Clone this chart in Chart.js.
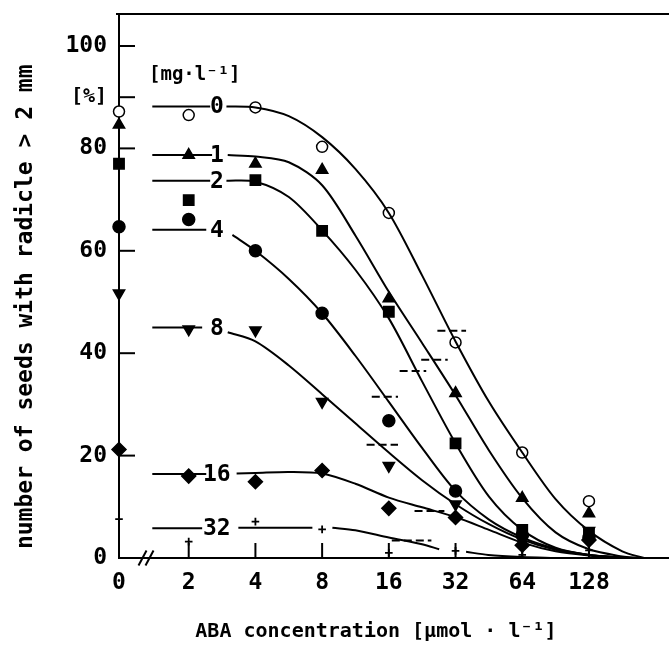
<!DOCTYPE html>
<html><head><meta charset="utf-8">
<script src="https://cdn.jsdelivr.net/npm/chart.js"></script>
<style>html,body{margin:0;padding:0;background:#fff;}canvas{display:block;}</style>
</head><body>
<canvas id="c" width="669" height="648"></canvas>
<script>
// ---- categories / ticks ----
const conc = [0, 2, 4, 8, 16, 32, 64, 128];
const xTickLabels = ['0', '2', '4', '8', '16', '32', '64', '128'];
const yTickValues = [0, 20, 40, 60, 80, 90, 100];
const yTickLabels = ['0', '20', '40', '60', '80', '[%]', '100'];
const doseLabels = ['0', '1', '2', '4', '8', '16', '32'];
const plateau = [88.2, 78.7, 73.7, 64.1, 45.0, 16.4, 5.8];

// ---- observed values (%), one per concentration ----
const obs0  = [87.2, 86.5, 88.0, 80.3, 67.4, 42.1, 20.6, 11.1];
const obs1  = [84.6, 78.7, 77.0, 75.8, 50.7, 32.2, 11.7, 8.7];
const obs2  = [77.0, 69.9, 73.8, 63.9, 48.1, 22.4, 5.5, 4.8];
const obs4  = [64.7, 66.1, 60.0, 47.8, 26.8, 13.1, 4.5, 4.0];
const obs8  = [51.7, 44.7, 44.5, 30.5, 18.0, 10.5, 3.5, 5.3];
const obs16 = [21.2, 16.0, 14.9, 17.1, 9.7, 7.9, 2.5, 3.5];
const obs32 = [7.6, 3.2, 7.1, 5.6, 1.0, 1.4, 0.6, 1.5];

// ---- fitted curves (x in µmol/l, null = gap) ----
const fit0X  = [1.37, 2.5, 2.7, 2.96, 4, 5.66, 8, 11.3, 16, 22.6, 32, 45.3, 64, 90.5, 128, 181, 227];
const fit0Y  = [88.2, 88.2, null, 88.2, 88.0, 86.3, 82.2, 76, 67.4, 55.2, 42.3, 30.5, 20.6, 11.5, 5.3, 1.3, 0];
const fit1X  = [1.37, 2.55, 2.8, 3.0, 4, 5.66, 8, 11.3, 16, 22.6, 32, 45.3, 64, 90.5, 128, 181, 215];
const fit1Y  = [78.7, 78.7, null, 78.7, 78.4, 77.3, 72.8, 63, 52, 42, 31.8, 21, 11.7, 5, 1.7, 0.3, 0];
const fit2X  = [1.37, 2.5, 2.7, 2.96, 4, 5.66, 8, 11.3, 16, 22.6, 32, 45.3, 64, 90.5, 128, 195];
const fit2Y  = [73.7, 73.7, null, 73.7, 73.5, 70.5, 64, 56.3, 46.8, 34.5, 22.4, 12, 5.5, 2, 0.6, 0];
const fit4X  = [1.37, 2.4, 2.6, 3.15, 4, 5.66, 8, 11.3, 16, 22.6, 32, 45.3, 64, 90.5, 128, 190];
const fit4Y  = [64.1, 64.1, null, 63.1, 60, 54.5, 47.8, 39.5, 30.5, 21.5, 13.1, 7.5, 4, 1.8, 0.6, 0];
const fit8X  = [1.37, 2.3, 2.5, 3.0, 4, 5.66, 8, 11.3, 16, 22.6, 32, 45.3, 64, 90.5, 128, 190];
const fit8Y  = [45, 45, null, 44.1, 42.3, 37.6, 32, 26.3, 20.6, 15.2, 10.5, 6.6, 3.6, 1.6, 0.6, 0];
const fit16X = [1.37, 2.4, 2.6, 3.29, 4, 5.66, 8, 11.3, 16, 22.6, 32, 45.3, 64, 90.5, 128, 190];
const fit16Y = [16.4, 16.4, null, 16.5, 16.6, 16.8, 16.5, 14.5, 11.8, 9.9, 8.0, 5.5, 3.0, 1.3, 0.5, 0];
const fit32X = [1.37, 2.3, 2.6, 3.35, 7.23, 8, 8.9, 11.3, 16, 22.6, 27, 31, 35.7, 45, 64, 90];
const fit32Y = [5.8, 5.8, null, 5.9, 5.9, null, 5.9, 5.4, 4.0, 2.7, 1.7, null, 1.2, 0.6, 0.2, 0];

// ---- dashed half-maximum segments ----
const halfLo = [26.5, 22.4, 17.9, 13.4, 12.7, 20.9, 16.5];
const halfHi = [35.7, 29.5, 23.6, 17.6, 17.6, 28.5, 24.9];
const halfY  = [44.4, 38.7, 36.5, 31.5, 22.1, 9.2, 3.4];

// ---- axis geometry ----
const X_ZERO = -0.045, X_MAX = 8.2, Y_MAX = 106.25;
const pos = c => (c === 0 ? X_ZERO : Math.log2(c));
const FONT = '"DejaVu Sans Mono", monospace';

const obsSets = [
  {v: obs0,  style: 'circle',   r: 5.5, fill: '#fff', rot: 0},
  {v: obs1,  style: 'triangle', r: 6.5, fill: '#000', rot: 0},
  {v: obs2,  style: 'rect',     r: 7.3, fill: '#000', rot: 0},
  {v: obs4,  style: 'circle',   r: 6,   fill: '#000', rot: 0},
  {v: obs8,  style: 'triangle', r: 6.5, fill: '#000', rot: 180},
  {v: obs16, style: 'rectRot',  r: 7,   fill: '#000', rot: 0},
  {v: obs32, style: 'cross',    r: 3.8, fill: '#000', rot: 0}
];
const fits = [[fit0X, fit0Y], [fit1X, fit1Y], [fit2X, fit2Y], [fit4X, fit4Y],
              [fit8X, fit8Y], [fit16X, fit16Y], [fit32X, fit32Y]];

const datasets = [];
fits.forEach(([xs, ys]) => {
  datasets.push({
    type: 'line',
    data: xs.map((c, i) => ({x: pos(c), y: ys[i]})),
    borderColor: '#000', borderWidth: 2, pointRadius: 0,
    tension: 0.3, spanGaps: false, fill: false, clip: false
  });
});
halfY.forEach((yv, i) => {
  datasets.push({
    type: 'line',
    data: [{x: pos(halfLo[i]), y: yv}, {x: pos(halfHi[i]), y: yv}],
    borderColor: '#000', borderWidth: 2, borderDash: [8, 4], pointRadius: 0, fill: false
  });
});
obsSets.forEach(s => {
  datasets.push({
    type: 'scatter',
    data: conc.map((c, i) => ({x: pos(c), y: s.v[i]})),
    showLine: false,
    pointStyle: s.style, pointRadius: s.r, pointRotation: s.rot,
    pointBackgroundColor: s.fill, pointBorderColor: '#000',
    pointBorderWidth: s.style === 'cross' ? 1.8 : 1.5,
    clip: false
  });
});

const noPad = s => { s.paddingTop = 0; s.paddingBottom = 0; s.paddingLeft = 0; s.paddingRight = 0; };

const decor = {
  id: 'decor',
  beforeDraw(chart) {
    const c = chart.ctx;
    c.save(); c.fillStyle = '#fff'; c.fillRect(0, 0, chart.width, chart.height); c.restore();
  },
  beforeDatasetsDraw(chart) {
    const {ctx, chartArea: a, scales: {x, y}} = chart;
    ctx.save();
    ctx.strokeStyle = '#000'; ctx.lineWidth = 2;
    ctx.beginPath(); ctx.moveTo(a.left - 3, a.top); ctx.lineTo(a.right, a.top); ctx.stroke();
    x.ticks.forEach(t => {
      if (t.value <= X_ZERO) return;
      const px = x.getPixelForValue(t.value);
      ctx.beginPath(); ctx.moveTo(px, a.bottom); ctx.lineTo(px, a.bottom - 15); ctx.stroke();
    });
    y.ticks.forEach(t => {
      if (t.value === 0) return;
      const py = y.getPixelForValue(t.value);
      ctx.beginPath(); ctx.moveTo(a.left, py); ctx.lineTo(a.left + 16, py); ctx.stroke();
    });
    const bx = x.getPixelForValue(0.36);
    [-3.5, 3.5].forEach(dx => {
      ctx.beginPath(); ctx.moveTo(bx + dx - 4, a.bottom + 7.5); ctx.lineTo(bx + dx + 4, a.bottom - 7.5); ctx.stroke();
    });
    ctx.restore();
  },
  afterDatasetsDraw(chart) {
    const {ctx, scales: {x, y}} = chart;
    ctx.save();
    ctx.fillStyle = '#000'; ctx.textAlign = 'center'; ctx.textBaseline = 'middle';
    ctx.font = 'bold 23px ' + FONT;
    const lx = x.getPixelForValue(pos(2.68));
    doseLabels.forEach((t, i) => ctx.fillText(t, lx, y.getPixelForValue(plateau[i]) + 1));
    ctx.font = 'bold 19px ' + FONT;
    ctx.fillText('[mg·l⁻¹]', x.getPixelForValue(pos(2.13)), y.getPixelForValue(94.3));
    ctx.restore();
  }
};

new Chart(document.getElementById('c'), {
  type: 'scatter',
  data: {datasets},
  options: {
    responsive: false, animation: false, devicePixelRatio: 1,
    layout: {autoPadding: false, padding: {left: 0, right: 0, top: 14, bottom: 0}},
    plugins: {legend: {display: false}, tooltip: {enabled: false}},
    scales: {
      x: {
        type: 'linear', position: 'bottom', min: X_ZERO, max: X_MAX,
        afterBuildTicks: s => { s.ticks = conc.map(c => ({value: pos(c)})); },
        afterFit: s => { s.height = 90; noPad(s); },
        grid: {display: false, drawTicks: false},
        border: {display: true, color: '#000', width: 2},
        ticks: {
          color: '#000', font: {family: FONT, size: 23, weight: 'bold'}, padding: 11,
          autoSkip: false, maxRotation: 0, minRotation: 0,
          callback: (v, i) => xTickLabels[i]
        },
        title: {
          display: true, text: 'ABA concentration [µmol · l⁻¹]   ', color: '#000',
          font: {family: FONT, size: 20, weight: 'bold'}, padding: {top: 0, bottom: 4}
        }
      },
      y: {
        type: 'linear', position: 'left', min: 0, max: Y_MAX,
        afterBuildTicks: s => { s.ticks = yTickValues.map(v => ({value: v})); },
        afterFit: s => { s.width = 119; noPad(s); },
        grid: {display: false, drawTicks: false},
        border: {display: true, color: '#000', width: 2},
        ticks: {
          color: '#000', padding: 12, autoSkip: false,
          font: c => ({family: FONT, size: (c.tick && c.tick.value === 90) ? 20 : 23, weight: 'bold'}),
          callback: v => yTickLabels[yTickValues.indexOf(v)]
        },
        title: {
          display: true, text: 'number of seeds with radicle > 2 mm   ', color: '#000',
          font: {family: FONT, size: 23, weight: 'bold'}, padding: {top: 12, bottom: 0}
        }
      }
    }
  },
  plugins: [decor]
});
</script>
</body></html>
